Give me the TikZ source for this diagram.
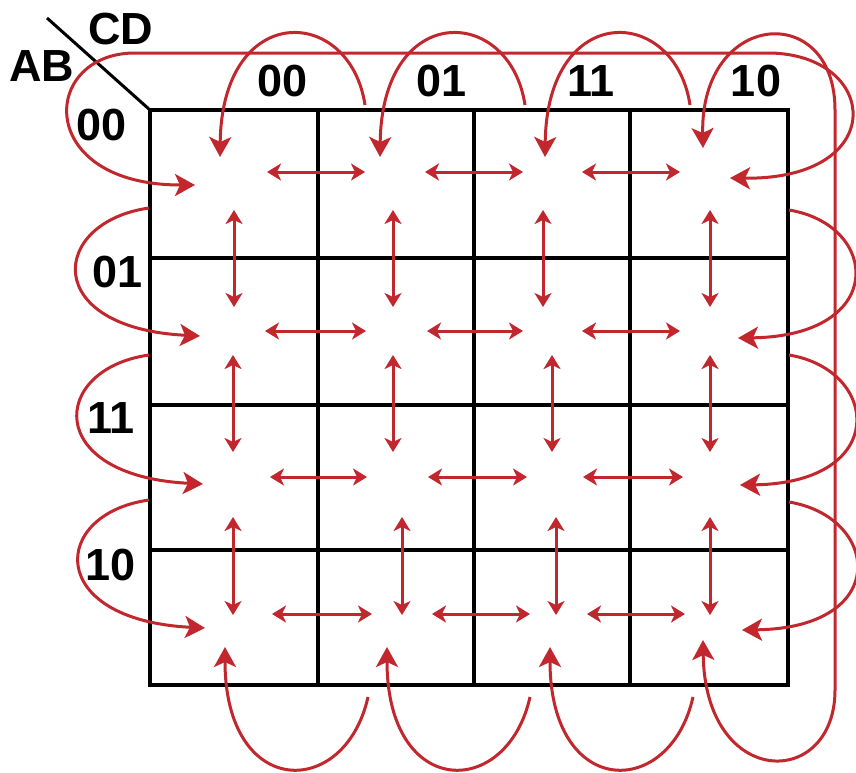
\documentclass[tikz,border=0pt]{standalone}
\usepackage{fontspec}
\setmainfont{Liberation Sans}
\usetikzlibrary{arrows.meta}
\definecolor{kred}{RGB}{193,39,45}
\newcommand\kmapfont{\bfseries\fontsize{45}{50}\selectfont}
\tikzset{
  gridline/.style={line width=4pt, black, line cap=rect},
  bigtip/.tip={Stealth[length=20pt,width=22pt,inset=5pt]},
  smalltip/.tip={Stealth[length=14pt,width=17pt,inset=4pt]},
  wrap/.style={draw=kred, line width=3pt, -bigtip},
  wraptwo/.style={draw=kred, line width=3pt, bigtip-bigtip},
  dbl/.style={draw=kred, line width=3pt, smalltip-smalltip},
  lbl/.style={font=\kmapfont, inner sep=0pt, text=black}
}
\begin{document}
\begin{tikzpicture}[x=1pt, y=-1pt]
\useasboundingbox (0,0) rectangle (856,772);
\fill[white] (0,0) rectangle (856,772);

% grid
\draw[gridline] (150,110) rectangle (788,685);
\foreach \x in {318,474,630} \draw[gridline] (\x,110) -- (\x,685);
\foreach \y in {258,405,550} \draw[gridline] (150,\y) -- (788,\y);
\draw[line width=3pt, black] (47,18) -- (150,110);

% labels
\node[lbl] (cd) at (121,29) {CD};
\node[lbl] (ab) at (42,66) {AB};
\node[lbl] (c00) at (283,81) {00};
\node[lbl] (c01) at (442,81) {01};
\node[lbl] (c11) at (591,81) {11};
\node[lbl] (c10) at (756,81) {10};
\node[lbl] (r00) at (102,125) {00};
\node[lbl] (r01) at (118,272) {01};
\node[lbl] (r11) at (111,418) {11};
\node[lbl] (r10) at (111,565) {10};

% horizontal double arrows
\foreach \n/\xa/\xb/\y in {
  ha/267/365/172, hb/425/523/172, hc/582/680/172,
  hd/265/366/331, he/427/523/331, hf/582/680/331,
  hg/270/367/477, hh/428/527/477, hi/583/683/477,
  hj/272/372/614, hk/432/530/614, hl/587/685/614}{
  \coordinate (\n-a) at (\xa,\y);
  \coordinate (\n-b) at (\xb,\y);
  \draw[dbl] (\n-a) -- (\n-b);
}
% vertical double arrows
\foreach \n/\x/\ya/\yb in {
  va/234/210/307, vb/393/210/307, vc/543/210/307, vd/710/210/307,
  ve/233/355/452, vf/393/355/452, vg/552/355/452, vh/710/355/452,
  vi/233/517/615, vj/402/517/615, vk/556/517/615, vl/710/517/615}{
  \coordinate (\n-a) at (\x,\ya);
  \coordinate (\n-b) at (\x,\yb);
  \draw[dbl] (\n-a) -- (\n-b);
}

% top wrap arcs
\foreach \n/\tx in {ta/220, tb/380, tc/545}{
  \coordinate (\n-s) at ({\tx+145},105);
  \coordinate (\n-t) at (\tx,157);
  \draw[wrap] (\n-s) .. controls ({\tx+130},5) and ({\tx+2},0) .. (\n-t);
}
% bottom wrap arcs
\foreach \n/\tx in {ba/225, bb/387, bc/550}{
  \coordinate (\n-s) at ({\tx+143},697);
  \coordinate (\n-t) at (\tx,647);
  \draw[wrap] (\n-s) .. controls ({\tx+120},800) and (\tx,800) .. (\n-t);
}
% left wrap loops
\foreach \n/\sy/\tx/\ty in {la/208/200/336, lb/355/203/484, lc/500/205/628}{
  \coordinate (\n-s) at (149,\sy);
  \coordinate (\n-t) at (\tx,\ty);
  \draw[wrap] (\n-s) .. controls (50,{\sy+14}) and ({\tx-160},{\ty-8}) .. (\n-t);
}
% right wrap loops
\foreach \n/\sy/\tx/\ty in {ra/210/738/338, rb/355/740/485, rc/502/742/630}{
  \coordinate (\n-s) at (789,\sy);
  \coordinate (\n-t) at (\tx,\ty);
  \draw[wrap] (\n-s) .. controls (880,{\sy+15}) and ({\tx+150},{\ty-2}) .. (\n-t);
}

% corner-to-corner wraps
\coordinate (w00) at (195,185);
\coordinate (w03) at (730,178);
\draw[wraptwo] (w00) .. controls (35,185) and (40,55) .. (133,53)
  -- (770,53) .. controls (880,55) and (890,180) .. (w03);
\coordinate (w03t) at (703,148);
\coordinate (w33b) at (703,640);
\draw[wraptwo] (w03t) .. controls (700,10) and (835,0) .. (835,110)
  -- (835,690) .. controls (835,790) and (705,790) .. (w33b);
\end{tikzpicture}
\end{document}
